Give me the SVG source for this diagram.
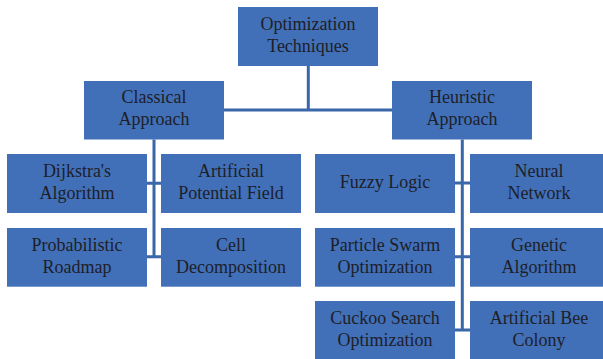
<svg xmlns="http://www.w3.org/2000/svg" width="603" height="359" viewBox="0 0 603 359">
<style>
.box{fill:#4170B8}
.t{font-family:"Liberation Serif","Times New Roman",serif;font-size:18px;fill:#1e1e28;text-anchor:middle}
.c{stroke:#3A66AA;stroke-width:3;fill:none}
</style>
<rect width="603" height="359" fill="#ffffff"/>
<g id="connectors">
<path class="c" d="M308.3,66V110M224,110H392"/>
<path class="c" d="M154,139.5V257M147,183.3H161M147,256.7H161"/>
<path class="c" d="M462.3,139.5V330M455,183H470M455,256.7H470M455,330H470"/>
</g>
<g id="optimization"><rect class="box" x="238" y="7" width="140" height="59"/><text class="t" x="308" y="30">Optimization</text><text class="t" x="308" y="52">Techniques</text></g>
<g id="classical"><rect class="box" x="84" y="81" width="140" height="58.5"/><text class="t" x="154" y="103.3">Classical</text><text class="t" x="154" y="125">Approach</text></g>
<g id="heuristic"><rect class="box" x="392" y="81" width="140" height="58.5"/><text class="t" x="462" y="103.3">Heuristic</text><text class="t" x="462" y="125">Approach</text></g>
<g id="dijkstra"><rect class="box" x="7" y="154" width="140" height="59"/><text class="t" x="77" y="176.7">Dijkstra's</text><text class="t" x="77" y="199.3">Algorithm</text></g>
<g id="apf"><rect class="box" x="161" y="154" width="140" height="59"/><text class="t" x="231" y="176.7">Artificial</text><text class="t" x="231" y="199.3">Potential Field</text></g>
<g id="prm"><rect class="box" x="7" y="228" width="140" height="58.7"/><text class="t" x="77" y="250.5">Probabilistic</text><text class="t" x="77" y="273">Roadmap</text></g>
<g id="cell"><rect class="box" x="161" y="228" width="140" height="58.7"/><text class="t" x="231" y="250.5">Cell</text><text class="t" x="231" y="273">Decomposition</text></g>
<g id="fuzzy"><rect class="box" x="315" y="154" width="140" height="59"/><text class="t" x="385" y="188.3">Fuzzy Logic</text></g>
<g id="neural"><rect class="box" x="470" y="154" width="140" height="59"/><text class="t" x="539" y="176.7">Neural</text><text class="t" x="539" y="199.3">Network</text></g>
<g id="pso"><rect class="box" x="315" y="228" width="140" height="58.7"/><text class="t" x="385" y="250.5">Particle Swarm</text><text class="t" x="385" y="273">Optimization</text></g>
<g id="ga"><rect class="box" x="470" y="228" width="140" height="58.7"/><text class="t" x="539" y="250.5">Genetic</text><text class="t" x="539" y="273">Algorithm</text></g>
<g id="cuckoo"><rect class="box" x="315" y="301" width="140" height="58"/><text class="t" x="385" y="323.5">Cuckoo Search</text><text class="t" x="385" y="346">Optimization</text></g>
<g id="abc"><rect class="box" x="470" y="301" width="140" height="58"/><text class="t" x="539" y="323.5">Artificial Bee</text><text class="t" x="539" y="346">Colony</text></g>
</svg>
